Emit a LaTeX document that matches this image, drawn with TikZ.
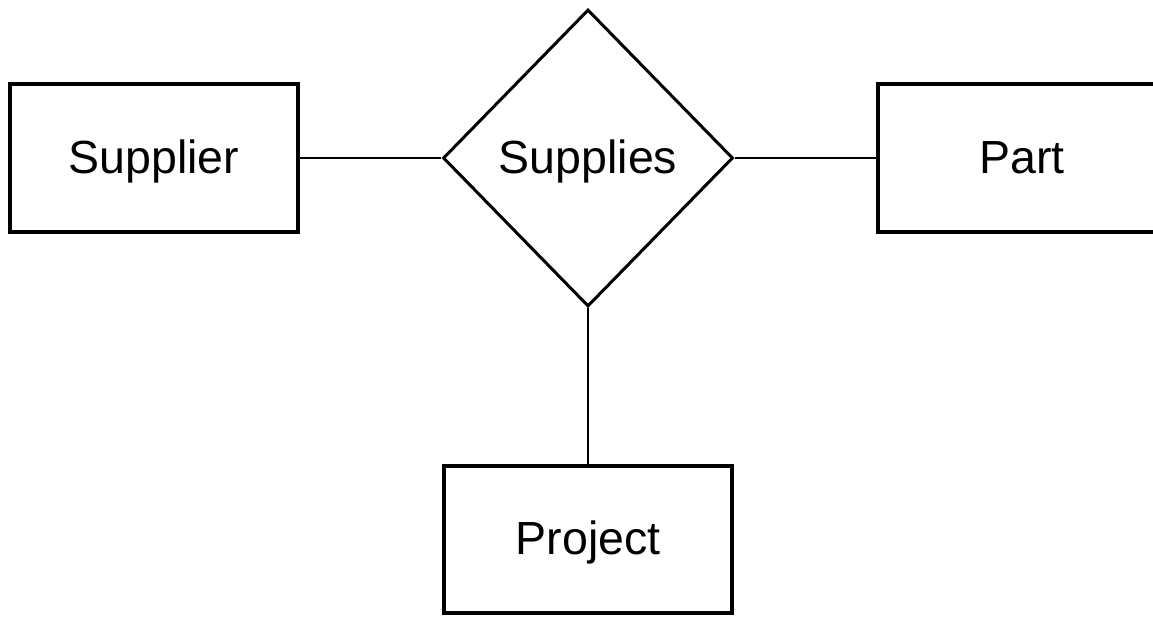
\documentclass[tikz,border=0pt]{standalone}
\usepackage{fontspec}
\setmainfont{Liberation Sans}
\usetikzlibrary{shapes.geometric}

\begin{document}
\begin{tikzpicture}[x=1pt,y=-1pt,line cap=butt,line join=miter,
  entity/.style={draw,line width=4pt,rectangle,minimum width=288pt,minimum height=148pt,inner sep=0pt,text height=40pt,text depth=10pt,font=\fontsize{46.5}{54}\selectfont},
  relation/.style={draw,line width=3pt,diamond,minimum width=290pt,minimum height=297pt,inner sep=0pt,text height=40pt,text depth=10pt,font=\fontsize{46.5}{54}\selectfont},
  link/.style={line width=2.5pt}]
\useasboundingbox (0,0) rectangle (1153,616);
\clip (0,0) rectangle (1153,616);
\node[relation] (supplies) at (588,158) {Supplies};
\node[entity] (supplier) at (154,158) {Supplier};
\node[entity] (part) at (1022,158) {Part};
\node[entity,minimum height=147pt] (project) at (588,539.5) {Project};
\draw[link] (supplier) -- (supplies);
\draw[link] (supplies) -- (part);
\draw[link] (supplies) -- (project);
\end{tikzpicture}
\end{document}
